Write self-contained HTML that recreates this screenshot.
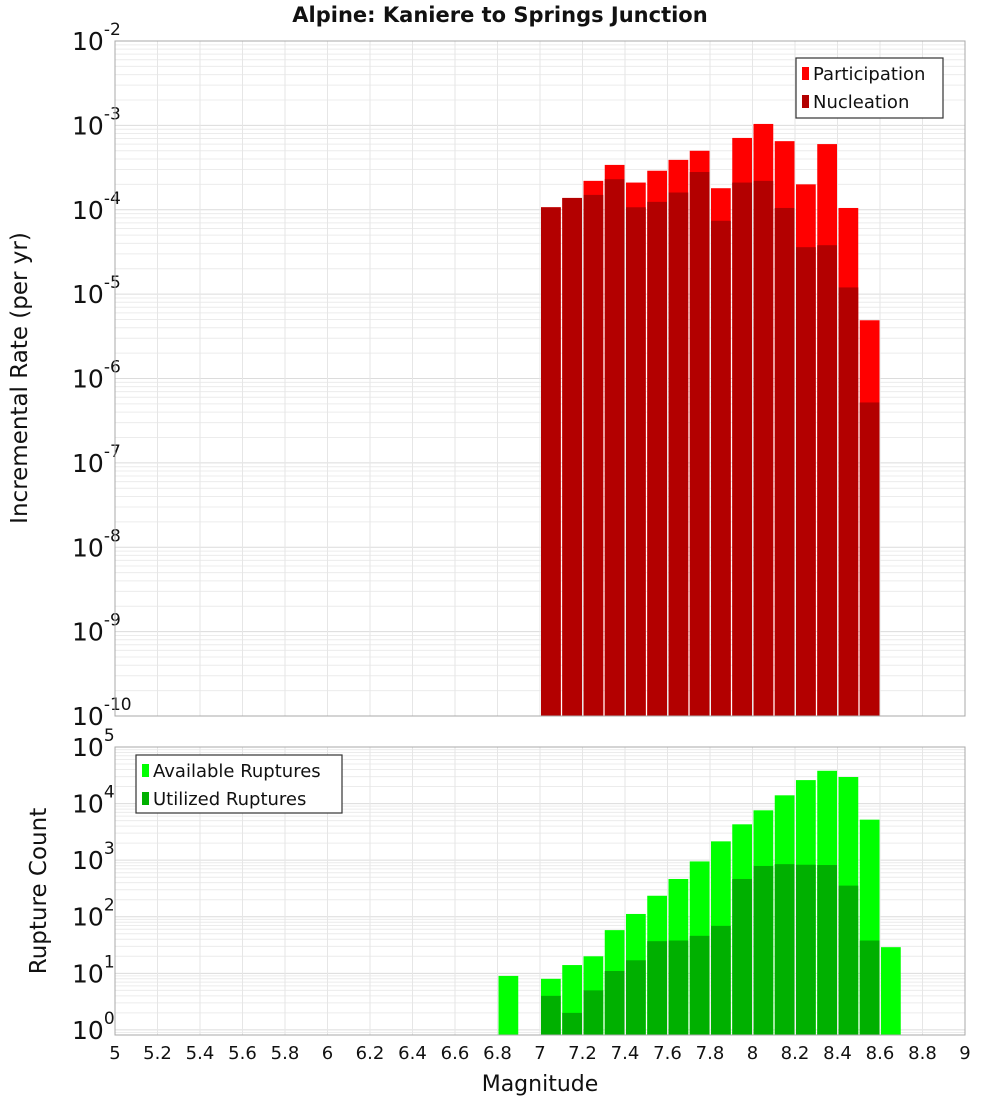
<!DOCTYPE html>
<html><head><meta charset="utf-8"><style>
body{margin:0;background:#fff;font-family:"Liberation Sans","DejaVu Sans",sans-serif}
svg text{font-family:"DejaVu Sans","Liberation Sans",sans-serif}
</style></head><body>
<svg id="c" width="1000" height="1100" xmlns="http://www.w3.org/2000/svg"></svg>
<script>
const binStarts=[7.0,7.1,7.2,7.3,7.4,7.5,7.6,7.7,7.8,7.9,8.0,8.1,8.2,8.3,8.4,8.5];
const participation=[1.07e-4,1.38e-4,2.2e-4,3.4e-4,2.1e-4,2.9e-4,3.9e-4,5.0e-4,1.8e-4,7.1e-4,1.04e-3,6.5e-4,2.0e-4,6.0e-4,1.05e-4,4.9e-6];
const nucleation=[1.07e-4,1.38e-4,1.5e-4,2.3e-4,1.07e-4,1.24e-4,1.6e-4,2.8e-4,7.4e-5,2.1e-4,2.2e-4,1.05e-4,3.6e-5,3.8e-5,1.2e-5,5.2e-7];
const ruptBins=[6.8,7.0,7.1,7.2,7.3,7.4,7.5,7.6,7.7,7.8,7.9,8.0,8.1,8.2,8.3,8.4,8.5,8.6];
const available=[9,8,14,20,58,112,235,465,950,2150,4300,7600,14000,26000,38000,29500,5200,29];
const utilized=[0,4,2,5,11,17,37,38,46,69,465,790,850,830,820,355,38,0];
const xTicks=[5,5.2,5.4,5.6,5.8,6,6.2,6.4,6.6,6.8,7,7.2,7.4,7.6,7.8,8,8.2,8.4,8.6,8.8,9];
const topDecades=[-10,-9,-8,-7,-6,-5,-4,-3,-2];
const botDecades=[0,1,2,3,4,5];

const S=document.getElementById('c');const NS='http://www.w3.org/2000/svg';
function mk(t,a,p){const e=document.createElementNS(NS,t);for(const k in a)e.setAttribute(k,a[k]);(p||S).appendChild(e);return e;}
const X0=115,X1=965;
const xs=v=>X0+(v-5)/(9-5)*(X1-X0);
const T={top:41,bot:716,lo:-10,hi:-2};
const B={top:747,bot:1035,lo:-0.09,hi:5};
const ys=(P,v)=>P.bot-(Math.log10(v)-P.lo)/(P.hi-P.lo)*(P.bot-P.top);

function panel(P,decs,name){
  const g=mk('g',{});
  
  
  for(let d=Math.floor(P.lo);d<P.hi;d++){for(let m=1;m<10;m++){const v=m*Math.pow(10,d);const lv=Math.log10(v);if(lv<P.lo||lv>P.hi)continue;const y=ys(P,v);
    mk('line',{x1:X0,x2:X1,y1:y,y2:y,stroke:m==1?'#dcdcdc':'#ececec','stroke-width':1},g);}}
  xTicks.forEach(t=>{const x=xs(t);mk('line',{x1:x,x2:x,y1:P.top,y2:P.bot,stroke:'#e6e6e6','stroke-width':1},g);});
  decs.forEach(d=>{const y=ys(P,Math.pow(10,d));
    const t=mk('text',{x:72,y:y+9,'font-size':25,fill:'#111'});
    
    
    t.textContent='10';
    const s=mk('tspan',{dy:-15,'font-size':17},t);s.textContent=String(d);
  });
}
panel(T,topDecades,'rate');panel(B,botDecades,'count');

function bars(P,starts,vals,color,name){
  starts.forEach((s,i)=>{if(!(vals[i]>0))return;const x=xs(s)+1,w=xs(s+0.1)-xs(s)-1.5;const y=ys(P,vals[i]);
    const r=mk('rect',{x:x,y:y,width:w,height:P.bot-y,fill:color});
    
    });
}
bars(T,binStarts,participation,'#ff0000','participation-bar');
bars(T,binStarts,nucleation,'#b30000','nucleation-bar');
bars(B,ruptBins,available,'#00ff00','available-bar');
bars(B,ruptBins,utilized,'#00b000','utilized-bar');

[T,B].forEach((P,i)=>{const r=mk('rect',{x:X0,y:P.top,width:X1-X0,height:P.bot-P.top,fill:'none',stroke:'#a8a8a8','stroke-width':1});
  
  });

xTicks.forEach(t=>{const e=mk('text',{x:xs(t),y:1059,'font-size':18,'text-anchor':'middle',fill:'#111'});
  
  
  e.textContent=String(t);});

function txt(x,y,s,size,name,extra){const e=mk('text',Object.assign({x:x,y:y,'font-size':size,fill:'#111'},extra||{}));
  
  
  e.textContent=s;return e;}
txt(500,22,'Alpine: Kaniere to Springs Junction',21,'chart-title',{'text-anchor':'middle','font-weight':'bold'});
txt(540,1091,'Magnitude',22,'x-axis-title',{'text-anchor':'middle'});
txt(0,0,'Incremental Rate (per yr)',23,'rate-y-axis-title',{'text-anchor':'middle',transform:'translate(27,378) rotate(-90)'});
txt(0,0,'Rupture Count',23,'count-y-axis-title',{'text-anchor':'middle',transform:'translate(46,891) rotate(-90)'});

function legend(x,y,w,h,items,name){const g=mk('g',{});
  
  
  mk('rect',{x:x,y:y,width:w,height:h,fill:'#fff',stroke:'#333','stroke-width':1.2},g);
  items.forEach((it,i)=>{const cy=y+15+i*28;mk('rect',{x:x+6,y:cy-6,width:7,height:13,fill:it[1]},g);
    const t=mk('text',{x:x+17,y:cy+7,'font-size':18,fill:'#111'},g);t.textContent=it[0];});}
legend(796,58,147,60,[['Participation','#ff0000'],['Nucleation','#b30000']],'rate-legend');
legend(136,755,206,58,[['Available Ruptures','#00ff00'],['Utilized Ruptures','#00b000']],'count-legend');
</script>
</body></html>
